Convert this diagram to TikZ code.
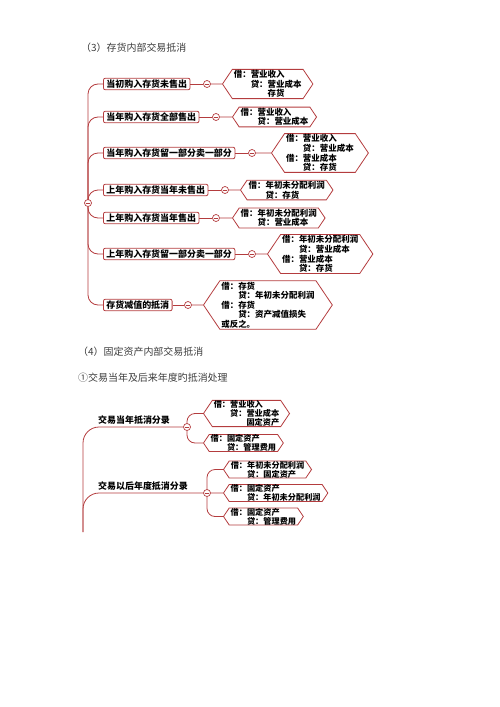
\documentclass[tikz,border=0pt]{standalone}
\usepackage{fontspec}
\newfontfamily\cjk{Noto Sans CJK SC}
\usepackage{xcolor}
\usetikzlibrary{shapes, shapes.symbols, calc, positioning}

\definecolor{mapred}{RGB}{180,60,62}
\definecolor{titlegray}{RGB}{60,60,60}

\tikzset{
    heading/.style = {anchor = west, text = titlegray, inner sep = 0pt,
                      font = \cjk\fontsize{10}{12}\selectfont},
    topic/.style   = {draw = mapred, rounded corners = 2pt, anchor = west, fill = white,
                      inner xsep = 3pt, inner ysep = 1.5pt, line width = 0.8pt,
                      font = \cjk\bfseries\fontsize{9}{10}\selectfont},
    plain/.style   = {anchor = south west, inner sep = 1pt,
                      font = \cjk\bfseries\fontsize{9}{10}\selectfont},
    entry/.style   = {draw = mapred, shape = signal, signal to = west and east,
                      signal pointer angle = 112, anchor = west, align = left, fill = white,
                      inner xsep = 1.5pt, inner ysep = 1pt, line width = 0.8pt,
                      font = \cjk\bfseries\fontsize{8.5}{9.6}\selectfont},
    small/.style   = {inner ysep = 0pt, font = \cjk\bfseries\fontsize{8.2}{9.2}\selectfont},
    fold/.style    = {draw = mapred, circle, inner sep = 0pt, minimum size = 7bp, fill = white,
                      line width = 0.7pt,
                      path picture = {\draw[mapred, line width = 0.7pt]
                          ([xshift = -2bp]path picture bounding box.center) --
                          ([xshift = 2bp]path picture bounding box.center);}},
    link/.style    = {draw = mapred, line width = 0.8pt}
}

\newcommand{\dai}[1]{\hspace*{2em}贷：#1}
\newcommand{\more}[1]{\hspace*{4em}#1}

\begin{document}
\begin{tikzpicture}[x = 1bp, y = -1bp]
                \useasboundingbox (0, 0) rectangle (500, 707);

                % (3) inventory
                \node (T3) [heading] at (81, 48) {（3）存货内部交易抵消};

                \node (R1) [fold] at (88, 203) {};

                \node (B1) [topic] at (103, 84)  {当初购入存货未售出};
                \node (B2) [topic] at (103, 117) {当年购入存货全部售出};
                \node (B3) [topic] at (103, 153) {当年购入存货留一部分卖一部分};
                \node (B4) [topic] at (103, 190) {上年购入存货当年未售出};
                \node (B5) [topic] at (103, 218) {上年购入存货当年售出};
                \node (B6) [topic] at (103, 254) {上年购入存货留一部分卖一部分};
                \node (B7) [topic] at (103, 305) {存货减值的抵消};

                \node (C1) [fold] at (207, 84)  {};
                \node (C2) [fold] at (216, 117) {};
                \node (C3) [fold] at (252, 153) {};
                \node (C4) [fold] at (225, 190) {};
                \node (C5) [fold] at (216, 218) {};
                \node (C6) [fold] at (252, 254) {};
                \node (C7) [fold] at (188, 305) {};

                \node (H1) [entry] at (222, 84)  {借：营业收入\\ \dai{营业成本}\\ \more{存货}};
                \node (H2) [entry] at (232, 117) {借：营业收入\\ \dai{营业成本}};
                \node (H3) [entry] at (271, 153) {借：营业收入\\ \dai{营业成本}\\ 借：营业成本\\ \dai{存货}};
                \node (H4) [entry] at (240, 190) {借：年初未分配利润\\ \dai{存货}};
                \node (H5) [entry] at (232, 218) {借：年初未分配利润\\ \dai{营业成本}};
                \node (H6) [entry] at (267, 254) {借：年初未分配利润\\ \dai{营业成本}\\ 借：营业成本\\ \dai{存货}};
                \node (H7) [entry] at (203, 305) {借：存货\\ \dai{年初未分配利润}\\ 借：存货\\ \dai{资产减值损失}\\ 或反之。};

                \foreach \i in {1, ..., 7} {
                    \draw [link, rounded corners = 10bp] (R1) |- (B\i);
                    \draw [link] (B\i) -- (C\i);
                    \draw [link] (C\i) -- (H\i);
                }

                % (4) fixed assets
                \node (T4) [heading] at (78, 352) {（4）固定资产内部交易抵消};
                \node (T5) [heading] at (78, 378) {①交易当年及后来年度旳抵消处理};

                \coordinate (R2) at (83, 532);

                \node (C8) [fold] at (187, 427) {};
                \node (C9) [fold] at (207, 493) {};

                \node (L1) [plain] at (97, 426) {交易当年抵消分录};
                \node (L2) [plain] at (97, 492) {交易以后年度抵消分录};

                \node (H8)  [entry, small] at (203, 413.5) {借：营业收入\\ \dai{营业成本}\\ \more{固定资产}};
                \node (H9)  [entry, small] at (203, 443)   {借：固定资产\\ \dai{管理费用}};
                \node (H10) [entry, small] at (223, 469.5) {借：年初未分配利润\\ \dai{固定资产}};
                \node (H11) [entry, small] at (223, 493)   {借：固定资产\\ \dai{年初未分配利润}};
                \node (H12) [entry, small] at (223, 516.5) {借：固定资产\\ \dai{管理费用}};

                \draw [link, rounded corners = 16bp] (R2) |- (C8);
                \draw [link, rounded corners = 16bp] (R2) |- (C9);

                \draw [link, rounded corners = 8bp] (C8) |- (H8);
                \draw [link, rounded corners = 8bp] (C8) |- (H9);
                \draw [link, rounded corners = 8bp] (C9) |- (H10);
                \draw [link] (C9) -- (H11);
                \draw [link, rounded corners = 8bp] (C9) |- (H12);
\end{tikzpicture}
\end{document}
